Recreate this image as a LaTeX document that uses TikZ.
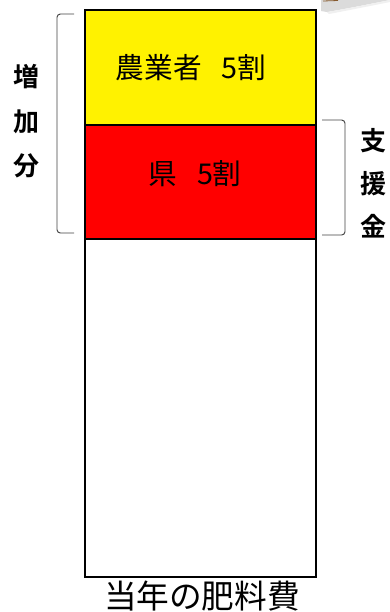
\documentclass[tikz,border=0pt]{standalone}
\usepackage{fontspec}
\newfontfamily\cjk{Noto Sans CJK JP}
\newfontfamily\cjkb{Noto Sans CJK JP Bold}
\begin{document}
\begin{tikzpicture}[x=0.75pt,y=-0.75pt,
  part/.style={draw=black,line width=1.9pt,minimum width=231*0.75pt,inner sep=0pt,outer sep=0pt},
  brack/.style={draw=black!75,line width=0.7pt,rounded corners=2.5pt},
  side/.style={font=\cjkb\fontsize{19.5}{20}\selectfont,inner sep=0pt},
  inner/.style={font=\cjk\fontsize{21.5}{22}\selectfont,inner sep=0pt}]
\useasboundingbox (0,0) rectangle (390,612);
% clipped gray fragment at top right
\fill[black!14] (321,0) -- (390,0) .. controls (365,5) and (345,9) .. (327,12) -- (321,11) -- cycle;
\fill[black!6] (327,12) .. controls (345,9) and (365,5) .. (390,0) -- (390,2) .. controls (365,7) and (345,11) .. (329,14) -- cycle;
\draw[brown!70!black,line width=0.6pt] (323,1) -- (338,0.5);
% stacked bar
\node[part,fill=white,minimum height=338*0.75pt,anchor=north west] (base) at (85,239) {};
\node[part,fill=red,minimum height=114*0.75pt,anchor=north west] (ken) at (85,125) {};
\node[part,fill=yellow,minimum height=115*0.75pt,anchor=north west] (farm) at (85,10) {};
\node[inner] (farmt) at (191,68) {農業者\hspace{0.7em}5割};
\node[inner] (kent) at (195,174) {県\hspace{0.7em}5割};
\node[font=\cjk\fontsize{24.5}{25}\selectfont,inner sep=0pt] (title) at (202,596) {当年の肥料費};
% left bracket
\coordinate (lt) at (74,14);
\coordinate (lb) at (74,233);
\draw[brack] (lt) -- (57,14) -- (57,233) -- (lb);
\node[side] (l1) at (26,77) {増};
\node[side] (l2) at (26,122) {加};
\node[side] (l3) at (26,166) {分};
% right bracket
\coordinate (rt) at (322,120);
\coordinate (rb) at (322,235);
\draw[brack] (rt) -- (345,120) -- (345,235) -- (rb);
\node[side] (r1) at (373,141) {支};
\node[side] (r2) at (373,184) {援};
\node[side] (r3) at (373,226) {金};
\end{tikzpicture}
\end{document}
